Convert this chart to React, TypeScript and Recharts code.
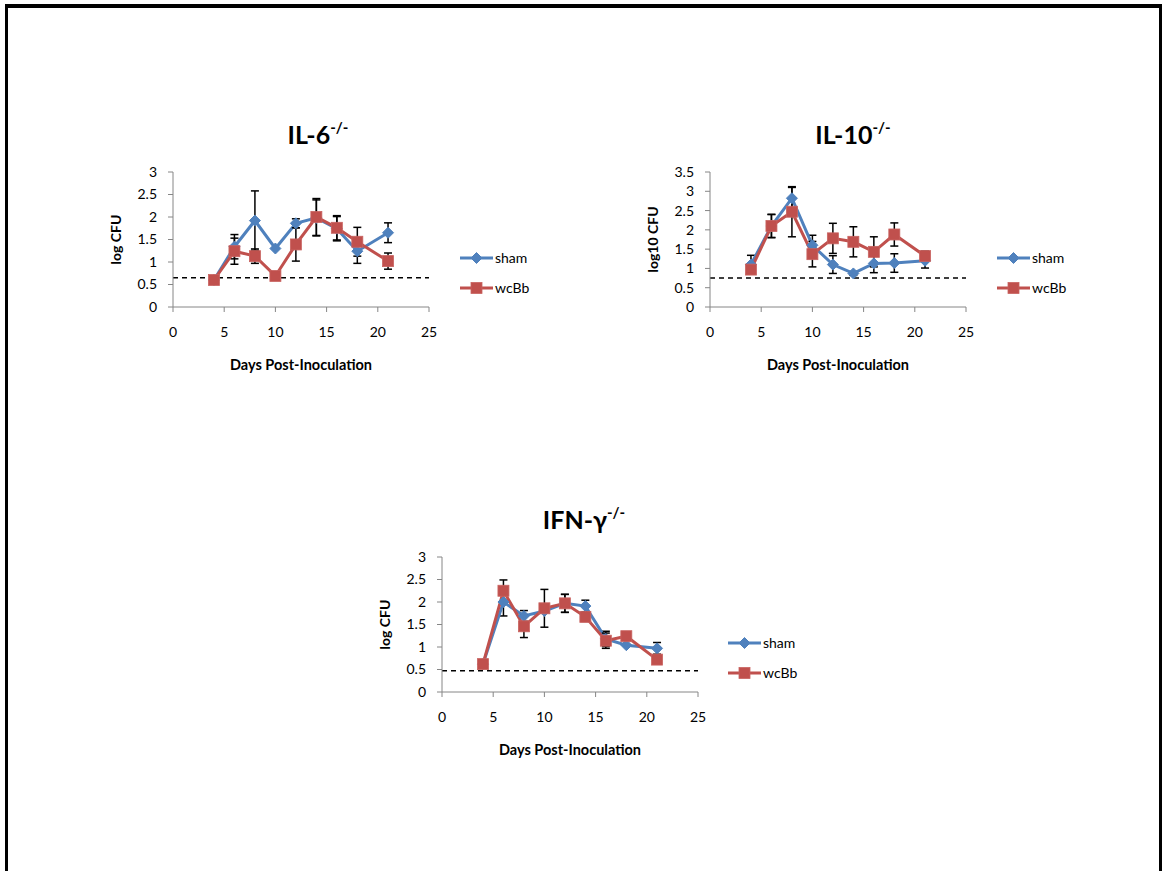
import React from 'react'
import { LineChart, Line, XAxis, YAxis, ErrorBar, ReferenceLine, Legend, Label } from 'recharts'

const BLUE = '#4F81BD'
const RED = '#C0504D'
const AXIS = '#868686'
const FONT = 'Lato, "Open Sans", sans-serif'

const days = [4, 6, 8, 10, 12, 14, 16, 18, 21]
const xTicks = [0, 5, 10, 15, 20, 25]
const yTicks3 = [0, 0.5, 1, 1.5, 2, 2.5, 3]
const yTicks35 = [0, 0.5, 1, 1.5, 2, 2.5, 3, 3.5]
const seriesNames = ['sham', 'wcBb']

// IL-6-/-
const il6Sham = [0.6, 1.34, 1.92, 1.3, 1.86, 1.98, 1.74, 1.24, 1.65]
const il6ShamErr = [0, 0.27, 0.66, 0, 0.1, 0.4, 0.27, 0.27, 0.22]
const il6Wcbb = [0.6, 1.24, 1.13, 0.69, 1.39, 2.0, 1.76, 1.45, 1.02]
const il6WcbbErr = [0, 0.29, 0.16, 0, 0.37, 0.41, 0.27, 0.32, 0.18]

// IL-10-/-
const il10Sham = [1.1, 2.1, 2.82, 1.6, 1.1, 0.87, 1.13, 1.14, 1.2]
const il10ShamErr = [0.24, 0.3, 0.28, 0.26, 0.23, 0.05, 0.24, 0.24, 0.19]
const il10Wcbb = [0.97, 2.1, 2.47, 1.37, 1.78, 1.69, 1.43, 1.88, 1.32]
const il10WcbbErr = [0, 0.3, 0.65, 0.33, 0.39, 0.39, 0.39, 0.3, 0.13]

// IFN-g-/-
const ifnSham = [0.62, 2.0, 1.69, 1.8, 1.97, 1.91, 1.18, 1.04, 0.97]
const ifnShamErr = [0, 0.31, 0.12, 0, 0.2, 0.13, 0.17, 0, 0.13]
const ifnWcbb = [0.62, 2.25, 1.46, 1.86, 1.97, 1.67, 1.14, 1.24, 0.72]
const ifnWcbbErr = [0, 0.24, 0.25, 0.42, 0.2, 0.1, 0.17, 0, 0]

// detection limits (dashed lines)
const limits = [0.65, 0.75, 0.47]

const buildRows = (sham: number[], shamErr: number[], wc: number[], wcErr: number[]) =>
  days.map((d, i) => ({ day: d, sham: sham[i], shamErr: shamErr[i], wcbb: wc[i], wcbbErr: wcErr[i] }))

const Diamond = (props: any) => {
  const { cx, cy, index } = props
  if (cx == null || cy == null) return <g key={`d-${index}`} />
  const r = 5.5
  return (
    <path
      key={`d-${index}`}
      d={`M${cx},${cy - r}L${cx + r},${cy}L${cx},${cy + r}L${cx - r},${cy}Z`}
      fill={BLUE}
      stroke={BLUE}
    />
  )
}

const Square = (props: any) => {
  const { cx, cy, index } = props
  if (cx == null || cy == null) return <g key={`s-${index}`} />
  return <rect key={`s-${index}`} x={cx - 5.5} y={cy - 5.5} width={11} height={11} fill={RED} stroke="#C96360" strokeWidth={0.8} />
}

const LegendBox = () => (
  <svg width={90} height={46}>
    <line x1={0} y1={8} x2={33} y2={8} stroke={BLUE} strokeWidth={3} />
    <Diamond cx={16.5} cy={8} index={0} />
    <text x={35} y={13} fontSize={14} fontFamily={FONT} fill="#000">{seriesNames[0]}</text>
    <line x1={0} y1={38} x2={33} y2={38} stroke={RED} strokeWidth={3} />
    <Square cx={16.5} cy={38} index={1} />
    <text x={35} y={43} fontSize={14} fontFamily={FONT} fill="#000">{seriesNames[1]}</text>
  </svg>
)

interface PanelProps {
  left: number
  top: number
  marginLeft: number
  titleMain: string
  titleX: number
  yLabel: string
  yMax: number
  yTicks: number[]
  limit: number
  rows: any[]
  legendLeft: number
}

function Panel({ left, top, marginLeft, titleMain, titleX, yLabel, yMax, yTicks, limit, rows, legendLeft }: PanelProps) {
  const W = 450
  const H = 270
  const plotLeft = marginLeft + 60
  return (
    <div style={{ position: 'absolute', left, top, width: W, height: H }}>
      <LineChart
        width={W}
        height={H}
        data={rows}
        margin={{ top: 62, right: W - plotLeft - 256, left: marginLeft, bottom: 43 }}
        style={{ fontFamily: FONT }}
      >
        <XAxis
          type="number"
          dataKey="day"
          domain={[0, 25]}
          ticks={xTicks}
          interval={0}
          height={30}
          stroke={AXIS}
          tickSize={5}
          tickMargin={15}
          tick={{ fill: '#000', fontSize: 14, fontFamily: FONT }}
        >
          <Label
            content={(p: any) => {
              const vb = p.viewBox || {}
              return (
                <text x={vb.x + vb.width / 2} y={vb.y + 63} textAnchor="middle" fontSize={14.5} fontWeight="bold" fontFamily={FONT} fill="#000">
                  Days Post-Inoculation
                </text>
              )
            }}
          />
        </XAxis>
        <YAxis
          type="number"
          domain={[0, yMax]}
          ticks={yTicks}
          interval={0}
          width={60}
          stroke={AXIS}
          tickSize={5}
          tickMargin={11}
          tick={{ fill: '#000', fontSize: 14, fontFamily: FONT }}
        >
          <Label
            content={(p: any) => {
              const vb = p.viewBox || {}
              const cx = vb.x + vb.width - 58
              const cy = vb.y + vb.height / 2
              return (
                <text transform={`translate(${cx},${cy}) rotate(-90)`} textAnchor="middle" dominantBaseline="central" fontSize={14} fontWeight="bold" fontFamily={FONT} fill="#000">
                  {yLabel}
                </text>
              )
            }}
          />
        </YAxis>
        <ReferenceLine y={limit} stroke="#000" strokeWidth={1.5} strokeDasharray="5 4" />
        <Line dataKey="sham" name={seriesNames[0]} stroke={BLUE} strokeWidth={3} dot={Diamond} activeDot={false} isAnimationActive={false}>
          <ErrorBar dataKey="shamErr" direction="y" width={4} stroke="#000" strokeWidth={1.5} />
        </Line>
        <Line dataKey="wcbb" name={seriesNames[1]} stroke={RED} strokeWidth={3} dot={Square} activeDot={false} isAnimationActive={false}>
          <ErrorBar dataKey="wcbbErr" direction="y" width={4} stroke="#000" strokeWidth={1.5} />
        </Line>
        <Legend
          layout="vertical"
          align="center"
          verticalAlign="middle"
          content={LegendBox}
          wrapperStyle={{ left: legendLeft, top: 140, width: 90 }}
        />
      </LineChart>
      <svg style={{ position: 'absolute', left: 0, top: 0, pointerEvents: 'none' }} width={W} height={60}>
        <text x={titleX} y={34} textAnchor="middle" fontFamily={FONT} fontWeight="bold" fontSize={25} fill="#000">
          {titleMain}
          <tspan dy={-11} fontSize={15}>-/-</tspan>
        </text>
      </svg>
    </div>
  )
}

export default function App() {
  return (
    <div style={{ position: 'absolute', left: 0, top: 0, width: 1162, height: 871, overflow: 'hidden', background: '#fff' }}>
      <div
        style={{
          position: 'absolute',
          left: 5,
          top: 4,
          width: 1157,
          height: 867,
          boxSizing: 'border-box',
          borderTop: '4px solid #000',
          borderLeft: '3px solid #000',
          borderRight: '3px solid #000',
        }}
      />
      <Panel
        left={100}
        top={110}
        marginLeft={13}
        titleMain="IL-6"
        titleX={218}
        yLabel="log CFU"
        yMax={3}
        yTicks={yTicks3}
        limit={limits[0]}
        rows={buildRows(il6Sham, il6ShamErr, il6Wcbb, il6WcbbErr)}
        legendLeft={360}
      />
      <Panel
        left={640}
        top={110}
        marginLeft={10}
        titleMain="IL-10"
        titleX={213}
        yLabel="log10 CFU"
        yMax={3.5}
        yTicks={yTicks35}
        limit={limits[1]}
        rows={buildRows(il10Sham, il10ShamErr, il10Wcbb, il10WcbbErr)}
        legendLeft={357}
      />
      <Panel
        left={370}
        top={495}
        marginLeft={12}
        titleMain="IFN-γ"
        titleX={214}
        yLabel="log CFU"
        yMax={3}
        yTicks={yTicks3}
        limit={limits[2]}
        rows={buildRows(ifnSham, ifnShamErr, ifnWcbb, ifnWcbbErr)}
        legendLeft={358}
      />
    </div>
  )
}
